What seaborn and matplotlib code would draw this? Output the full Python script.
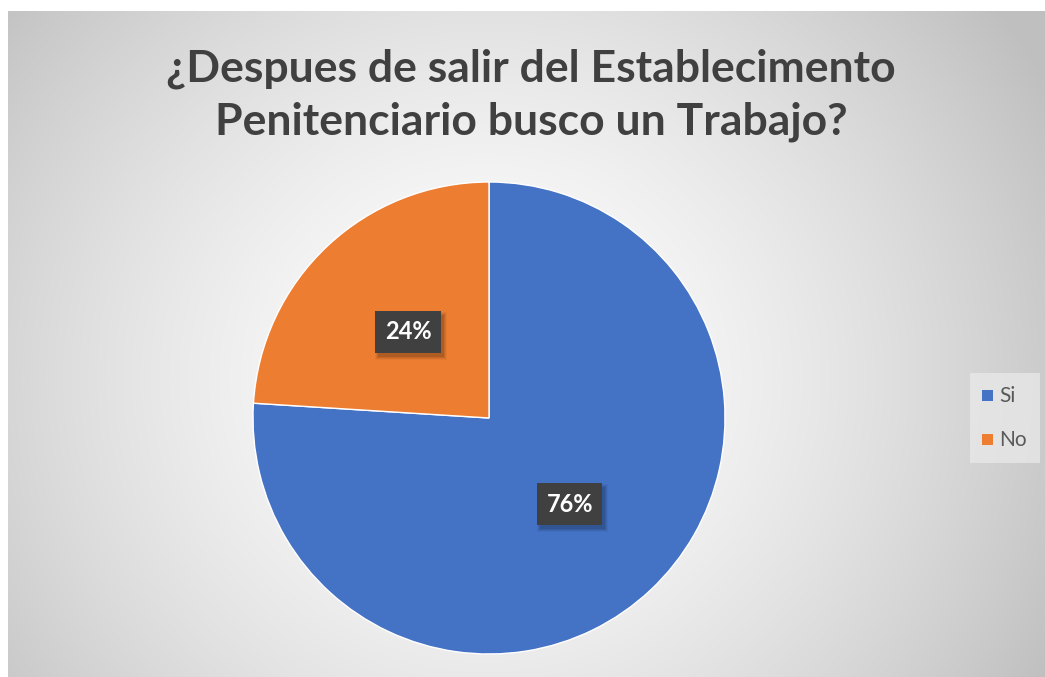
import numpy as np
import matplotlib
matplotlib.use("Agg")
import matplotlib.pyplot as plt
import matplotlib.transforms as mtransforms
import seaborn as sns
from matplotlib.patches import Rectangle

categories = ["Si", "No"]
values = [76, 24]
colors = ["#4472C4", "#ED7D31"]
title = "¿Despues de salir del Establecimento\nPenitenciario busco un Trabajo?"

sns.set_style("white")
plt.rcParams['font.family'] = ['Lato', 'DejaVu Sans']

W, H = 1045, 677
fig = plt.figure(figsize=(W / 100, H / 100), dpi=100)
fig.patch.set_facecolor("white")

# background with radial gradient
bg = fig.add_axes([8 / W, 0, 1 - 8 / W, (H - 11) / H])
bg.set_axis_off()
yy, xx = np.mgrid[0:400, 0:600]
cx, cy = 0.46 * 600, 0.55 * 400
r = np.sqrt(((xx - cx) / 600) ** 2 + ((yy - cy) / 400) ** 2 * 0.45)
r = np.clip(r / 0.62, 0, 1)
val = 1.0 - 0.25 * r ** 1.5
img = np.dstack([val, val, val])
bg.imshow(img, aspect="auto", extent=[0, 1, 0, 1], origin="upper")
bg.set_xlim(0, 1)
bg.set_ylim(0, 1)

# pie
ax = fig.add_axes([253 / W, (H - 654) / H, 472 / W, 472 / H])
ax.set_facecolor("none")
wedges, texts, autotexts = ax.pie(
    values, colors=colors, startangle=90, counterclock=False,
    autopct=lambda p: f"{p:.0f}%", pctdistance=0.5,
    wedgeprops=dict(edgecolor="white", linewidth=1),
    textprops=dict(color="white", fontsize=17, fontweight="bold"),
)
for t in autotexts:
    t.set_zorder(5)
    t.set_bbox(dict(boxstyle="square,pad=0.4", facecolor="#404040",
                    edgecolor="none"))
ax.set_aspect("equal")
ax.set_xlim(-1, 1)
ax.set_ylim(-1, 1)

fig.text(531 / W, 1 - 95 / H, title, ha="center", va="center",
         fontsize=32, fontweight="bold", color="#404040", linespacing=1.38)

# soft shadows behind the label boxes (display pixel coordinates)
fig.canvas.draw()
for t in autotexts:
    bb = t.get_bbox_patch().get_window_extent()
    for k, a in [(0, 0.10), (1, 0.08), (2, 0.06), (3, 0.04)]:
        ax.add_patch(Rectangle((bb.x0 + 3 - k, bb.y0 - 4 - k),
                               bb.width + 2 * k, bb.height + 2 * k,
                               transform=mtransforms.IdentityTransform(),
                               facecolor="black", edgecolor="none", alpha=a,
                               zorder=4))

# legend (pixel coordinates overlay)
ov = fig.add_axes([0, 0, 1, 1])
ov.set_axis_off()
ov.set_facecolor("none")
ov.set_xlim(0, W)
ov.set_ylim(0, H)
ov.add_patch(Rectangle((970, H - 463), 70, 90, facecolor="#ebebeb",
                       edgecolor="none", alpha=0.7))
for i, (c, lab) in enumerate(zip(colors, categories)):
    y = H - (396 + 44 * i)
    ov.add_patch(Rectangle((982, y - 5), 11, 11, facecolor=c, edgecolor="none"))
    ov.text(999, y, lab, fontsize=15, color="#595959", va="center", ha="left")

fig.savefig("out.png", dpi=100)
